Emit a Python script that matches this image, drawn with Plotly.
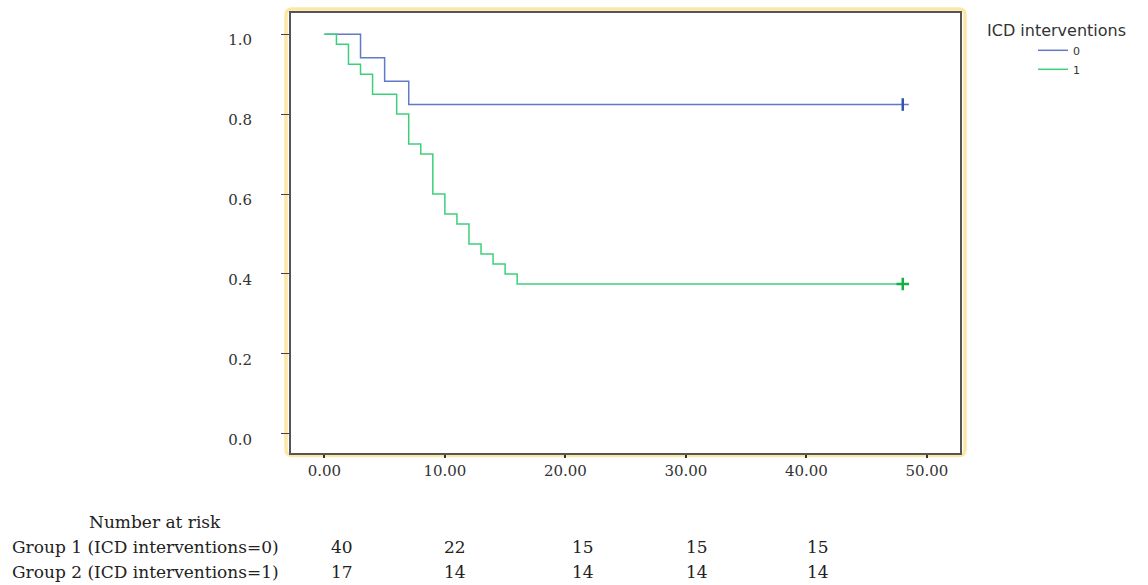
import plotly.graph_objects as go

# ---- data (months, survival probability) ----
blue_times = [0, 3, 5, 7, 48.5]
blue_surv = [1.0, 0.941, 0.882, 0.824, 0.824]
green_times = [0, 1, 2, 3, 4, 6, 7, 8, 9, 10, 11, 12, 13, 14, 15, 16, 48.5]
green_surv = [1.0, 0.975, 0.925, 0.90, 0.85, 0.80, 0.725, 0.70, 0.60, 0.55,
              0.525, 0.475, 0.45, 0.425, 0.40, 0.375, 0.375]
blue_censor_t = [48]
blue_censor_s = [0.824]
green_censor_t = [48]
green_censor_s = [0.375]

x_ticks = [0, 10, 20, 30, 40, 50]
x_ticktext = ["0.00", "10.00", "20.00", "30.00", "40.00", "50.00"]
y_ticks = [0.0, 0.2, 0.4, 0.6, 0.8, 1.0]
y_ticktext = ["0.0", "0.2", "0.4", "0.6", "0.8", "1.0"]

risk_header = "Number at risk"
group_labels = ["Group 1 (ICD interventions=0)", "Group 2 (ICD interventions=1)"]
risk_group1 = [40, 22, 15, 15, 15]
risk_group2 = [17, 14, 14, 14, 14]
risk_label_x = [1.5, 10.8, 21.5, 30.9, 41.0]   # column positions (x data units)

BLUE = "#6179c6"
GREEN = "#3cd07c"
SERIF = "DejaVu Serif"
SANS = "DejaVu Sans"

fig = go.Figure()
fig.add_trace(go.Scatter(x=blue_times, y=blue_surv, mode="lines", line_shape="hv",
                         line=dict(color=BLUE, width=1.5), name="0", legendrank=1))
fig.add_trace(go.Scatter(x=green_times, y=green_surv, mode="lines", line_shape="hv",
                         line=dict(color=GREEN, width=1.5), name="1", legendrank=2))
fig.add_trace(go.Scatter(x=blue_censor_t, y=blue_censor_s, mode="markers", showlegend=False,
                         marker=dict(symbol="line-ns", size=9,
                                     line=dict(color="#3352b5", width=2.5))))
fig.add_trace(go.Scatter(x=green_censor_t, y=green_censor_s, mode="markers", showlegend=False,
                         marker=dict(symbol="cross-thin", size=9,
                                     line=dict(color="#13b04a", width=2.5))))

L, R, T, B = 291, 188, 13, 132
W, H = 1148, 585
pw, ph = W - L - R, H - T - B

# yellow rounded border slightly outside the plot frame
def px_x(p):
    return p / pw
def px_y(p):
    return p / ph
x0, x1 = -px_x(5), 1 + px_x(5)
y0, y1 = -px_y(2.5), 1 + px_y(4)
rx, ry = px_x(6), px_y(6)
path = (f"M {x0+rx},{y1} L {x1-rx},{y1} Q {x1},{y1} {x1},{y1-ry} "
        f"L {x1},{y0+ry} Q {x1},{y0} {x1-rx},{y0} L {x0+rx},{y0} "
        f"Q {x0},{y0} {x0},{y0+ry} L {x0},{y1-ry} Q {x0},{y1} {x0+rx},{y1} Z")
fig.add_shape(type="path", path=path, xref="paper", yref="paper",
              line=dict(color="#fde7a6", width=3.5), layer="below")

annotations = []
annotations.append(dict(text=risk_header, xref="paper", yref="paper",
                        x=(155 - L) / pw, y=(H - B - 522) / ph,
                        xanchor="center", yanchor="middle", showarrow=False,
                        font=dict(family=SERIF, size=17, color="#222")))
for i, (lab, row) in enumerate(zip(group_labels, [risk_group1, risk_group2])):
    yy = (H - B - (547 + 25 * i)) / ph
    annotations.append(dict(text=lab, xref="paper", yref="paper", x=(10 - L) / pw, y=yy,
                            xanchor="left", yanchor="middle", showarrow=False,
                            font=dict(family=SERIF, size=17, color="#222")))
    for xv, n in zip(risk_label_x, row):
        annotations.append(dict(text=str(n), xref="x", yref="paper", x=xv, y=yy,
                                xanchor="center", yanchor="middle", showarrow=False,
                                font=dict(family=SERIF, size=17, color="#222")))

fig.update_layout(
    width=W, height=H,
    margin=dict(l=L, r=R, t=T, b=B),
    paper_bgcolor="white", plot_bgcolor="white",
    showlegend=True,
    legend=dict(x=(985 - L) / pw, y=(H - B - 15) / ph,
                xanchor="left", yanchor="top",
                title=dict(text="ICD interventions", side="top",
                           font=dict(family=SANS, size=16, color="#333")),
                font=dict(family=SANS, size=11, color="#333"),
                bgcolor="rgba(0,0,0,0)", itemwidth=30, tracegroupgap=0,
                indentation=48),
    xaxis=dict(range=[-2.77, 52.75], tickvals=x_ticks, ticktext=x_ticktext,
               showgrid=False, zeroline=False, showline=True, mirror=True,
               linecolor="#555", linewidth=2, ticks="outside", ticklen=3,
               tickcolor="#333", tickwidth=2,
               tickfont=dict(family=SERIF, size=15, color="#333")),
    yaxis=dict(range=[-0.048, 1.053], tickvals=y_ticks, ticktext=y_ticktext,
               showgrid=False, zeroline=False, showline=True, mirror=True,
               linecolor="#555", linewidth=2, ticks="outside", ticklen=8,
               tickcolor="#444", tickwidth=1, ticklabelstandoff=26,
               ticklabelshift=6,
               tickfont=dict(family=SERIF, size=15, color="#333")),
    annotations=annotations,
)

fig.write_html("out.html", config={"displayModeBar": False},
               post_script="document.body.style.margin='0';document.body.style.padding='0';")
